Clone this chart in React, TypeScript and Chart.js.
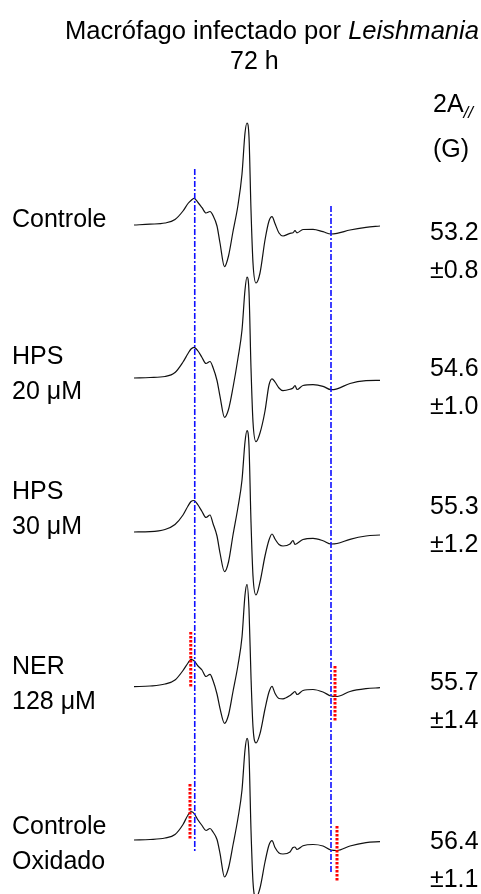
import React, { useEffect, useRef } from "react";
import { Chart, registerables } from "chart.js";

Chart.register(...registerables);

// Magnetic field (G) sampling points shared by all spectra
const field = [
  3253.6, 3260.0, 3266.0, 3270.0, 3273.2, 3275.2, 3276.4, 3277.6, 3279.2, 3280.8,
  3282.4, 3284.0, 3285.2, 3286.8, 3288.0, 3289.8, 3291.4, 3293.2, 3295.2, 3296.8,
  3298.0, 3298.8, 3299.6, 3300.4, 3301.2, 3302.4, 3304.0, 3306.0, 3307.6, 3308.8,
  3310.0, 3311.6, 3313.2, 3316.0, 3317.2, 3318.0, 3318.8, 3321.2, 3325.2, 3329.2,
  3332.4, 3334.8, 3340.0, 3346.4, 3352.0,
];

// EPR intensities (a.u.) for each sample
const controle = [
  0, 0.8, 2, 5.5, 14, 21.5, 24.5, 26.7, 22.5, 17.3,
  12, 13.5, 9.5, -1, -18, -41.7, -31, -6.5, 20, 51,
  92, 102, 88, 15, -38, -58, -48, -15, 4, 8.3,
  1.5, -8, -11, -8.3, -7.8, -5.7, -7.8, -4.5, -4.3, -6.7,
  -9, -8.3, -5, -2.3, -1,
];
const hps20 = [
  0, 0.5, 1.5, 5.5, 16, 24.5, 29, 30.7, 27, 20.5,
  14.5, 16.5, 10.5, -2.5, -18.3, -39.3, -31.5, -9.5, 20, 48,
  88, 101, 86, 10, -44, -63.7, -55, -33, -7, -0.8,
  -4, -10, -12.7, -11.3, -10, -7.5, -11.5, -7.5, -6.7, -8.3,
  -11.7, -10.8, -5.5, -2.7, -2.3,
];
const hps30 = [
  0, 0.3, 2.5, 7.5, 17, 26, 30.5, 31.5, 27, 20.5,
  14.5, 17, 8.5, -4, -21, -39.7, -30, -3, 25, 52,
  90, 101.3, 86, 10, -44, -63, -50, -24, -8, -2,
  -7, -12.5, -14, -12, -8.5, -12.5, -11.5, -7.5, -6.3, -8.7,
  -12, -11.5, -7.3, -4, -3,
];
const ner128 = [
  0.3, 1, 3, 7, 16.5, 24, 27.7, 26.3, 21, 17,
  10.5, 12.7, 6.5, -7, -21.3, -36.3, -28, -4.5, 22, 50,
  92, 102.7, 78, 10, -40, -56, -46.7, -22, -5, 0.7,
  -6.3, -11.5, -11.8, -8.5, -6, -4.5, -7.5, -3.5, -2.5, -5,
  -9, -9.5, -4.5, -1.7, -0.7,
];
const oxidado = [
  0, 0.5, 2, 5.5, 15.5, 25, 28.3, 26.7, 20, 14.5,
  9.5, 11.5, 8, 0.5, -13.3, -37, -28, -5, 22, 50,
  90, 101.7, 85, 10, -42, -58, -48, -22, -5, -0.7,
  -7.5, -13, -14, -12, -7.5, -7, -9.5, -5.8, -4.5, -6,
  -10, -10.5, -6, -2.7, -1.7,
];

const spectra = [controle, hps20, hps30, ner128, oxidado];
// vertical stacking offset of each spectrum (a.u.)
const offsets = [669, 516, 362, 207, 54];

const sampleLine1 = ["Controle", "HPS", "HPS", "NER", "Controle"];
const sampleLine2 = ["", "20 \u03bcM", "30 \u03bcM", "128 \u03bcM", "Oxidado"];
const aValues = ["53.2", "54.6", "55.3", "55.7", "56.4"];
const aErrors = ["\u00b10.8", "\u00b11.0", "\u00b11.2", "\u00b11.4", "\u00b11.1"];

// Blue reference lines (control A// extrema)
const blueFields = [3277.9, 3332.4];
const blueTop = [725, 688];
const blueBottom = [42, 22];

// Red markers (shifted extrema) : spectrum index, field, extent relative to baseline
const redSpectrum = [3, 3, 4, 4];
const redFields = [3276.3, 3334.0, 3276.0, 3334.8];
const redHigh = [55, 21, 56, 14];
const redLow = [-1, -34, 0, -41];

const W = 481;
const H = 894;
const FONT = '"Liberation Sans", Arial, sans-serif';

export default function App() {
  const ref = useRef<HTMLCanvasElement | null>(null);

  useEffect(() => {
    if (!ref.current) return;
    const datasets: any[] = [];
    redFields.forEach((f, i) => {
      const off = offsets[redSpectrum[i]];
      datasets.push({
        data: [
          { x: f, y: off + redHigh[i] },
          { x: f, y: off + redLow[i] },
        ],
        borderColor: "#ff0000",
        borderWidth: 3,
        borderDash: [2.5, 1.5],
        pointRadius: 0,
        borderCapStyle: "butt",
      });
    });
    blueFields.forEach((f, i) => {
      datasets.push({
        data: [
          { x: f, y: blueTop[i] },
          { x: f, y: blueBottom[i] },
        ],
        borderColor: "#1010ff",
        borderWidth: 1.6,
        borderDash: [6, 2, 2, 2],
        pointRadius: 0,
      });
    });
    spectra.forEach((s, k) => {
      datasets.push({
        data: field.map((b, i) => ({ x: b, y: offsets[k] + s[i] })),
        borderColor: "#111111",
        borderWidth: 1.2,
        pointRadius: 0,
        cubicInterpolationMode: "monotone",
      });
    });

    const chart = new Chart(ref.current, {
      type: "line",
      data: { datasets },
      options: {
        animation: false,
        responsive: false,
        maintainAspectRatio: false,
        layout: { padding: 0 },
        plugins: { legend: { display: false }, tooltip: { enabled: false } },
        scales: {
          x: { type: "linear", min: 3200, max: 3200 + W * 0.4, display: false },
          y: { type: "linear", min: 0, max: H, display: false },
        },
        elements: { line: { fill: false } },
      },
    });
    return () => chart.destroy();
  }, []);

  const txt = (left: number, top: number, content: React.ReactNode, key: string, size = 25) => (
    <div
      key={key}
      style={{
        position: "absolute",
        left,
        top,
        fontFamily: FONT,
        fontSize: size,
        lineHeight: "25px",
        color: "#000",
        whiteSpace: "nowrap",
      }}
    >
      {content}
    </div>
  );

  const labelTop = [206, 343, 478, 653, 813];
  const valueTop = [219, 355, 493, 669, 828];
  const lineGap = 35;
  const valueGap = 38;

  return (
    <div
      style={{
        position: "absolute",
        left: 0,
        top: 0,
        width: W,
        height: H,
        overflow: "hidden",
        background: "#fff",
      }}
    >
      <canvas ref={ref} width={W} height={H} style={{ position: "absolute", left: 0, top: 0 }} />
      {txt(65, 18, <>Macrófago infectado por <i>Leishmania</i></>, "t1", 25.6)}
      {txt(230, 48, "72 h", "t2")}
      {txt(
        433,
        91,
        <>
          2A<span style={{ fontSize: 17, position: "relative", top: 6, fontStyle: "italic" }}>//</span>
        </>,
        "a1"
      )}
      {txt(433, 136, "(G)", "a2")}
      {sampleLine1.map((s, i) => txt(12, labelTop[i], s, "l1" + i))}
      {sampleLine2.map((s, i) => (s ? txt(12, labelTop[i] + lineGap, s, "l2" + i) : null))}
      {aValues.map((s, i) => txt(430, valueTop[i], s, "v" + i))}
      {aErrors.map((s, i) => txt(430, valueTop[i] + valueGap, s, "e" + i))}
    </div>
  );
}
